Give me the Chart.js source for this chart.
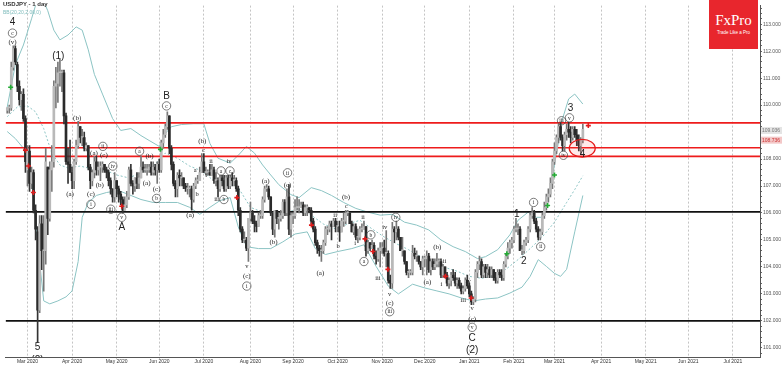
<!DOCTYPE html>
<html>
<head>
<meta charset="utf-8">
<script src="https://cdn.jsdelivr.net/npm/chart.js@4.4.1/dist/chart.umd.min.js"></script>
<style>
  html, body { margin: 0; padding: 0; background: #fff; }
  #wrap { position: relative; width: 782px; height: 366px; }
  #title { position: absolute; left: 3px; top: 1px; font: bold 6px "Liberation Sans", Arial, sans-serif; color: #333; }
  #bb { position: absolute; left: 3px; top: 9px; font: 5px "Liberation Sans", Arial, sans-serif; color: #7fbcbc; }
  #logo { position: absolute; left: 709px; top: 0; width: 49px; height: 49px; background: #e8262d; color: #fff; text-align: center; }
  #logo .big { font: 15px "Liberation Serif", serif; margin-top: 13px; line-height: 15px; }
  #logo .small { font: 4.5px "Liberation Sans", Arial, sans-serif; margin-top: 2px; }
</style>
</head>
<body>
<div id="wrap">
  <canvas id="chart" width="782" height="366"></canvas>
  <div id="title">USDJPY - 1 day</div>
  <div id="bb">BB(20,20,2.00,0)</div>
  <div id="logo"><div class="big">FxPro</div><div class="small">Trade Like a Pro</div></div>
</div>
<script>
// daily candles [open, high, low, close], one array per month
const feb20 = [
  [109.8,109.9,109.7,109.9],[109.9,110.0,109.7,109.9],[109.9,111.6,109.8,111.4],[111.4,112.2,111.3,112.1],
  [112.1,112.2,111.5,111.6],[111.5,111.6,110.5,110.7],[110.7,110.9,110.0,110.2],[110.2,110.5,109.8,110.4],
  [110.4,110.6,109.4,109.5],[109.5,109.6,107.5,107.9]
];
const mar20 = [
  [107.6,108.5,107.0,108.3],[108.3,108.5,106.8,107.1],[107.1,107.7,106.9,107.5],[107.5,107.6,106.0,106.1],
  [106.1,106.3,105.0,105.4],[105.3,105.5,101.2,102.4],[102.4,105.9,102.3,105.6],[105.6,105.9,103.9,104.6],
  [104.6,105.9,103.1,104.6],[104.6,108.4,104.1,107.9],[107.7,107.7,105.2,105.8],[105.8,107.9,105.7,107.6],
  [107.6,108.5,106.8,107.9],[107.9,110.9,107.7,110.7],[110.7,111.4,109.9,110.8],[110.8,111.6,110.1,111.2],
  [111.2,111.7,110.7,111.2],[111.2,111.3,110.5,111.2],[111.2,111.3,109.3,109.6],[109.6,109.7,107.8,107.9],
  [107.9,108.4,107.1,107.8],[107.8,108.7,107.5,107.5]
];
const apr20 = [
  [107.5,107.7,106.9,107.2],[107.2,108.0,106.9,107.9],[107.9,108.7,107.8,108.5],[108.5,109.4,108.4,109.2],
  [109.2,109.2,108.6,108.8],[108.8,109.1,108.5,108.8],[108.8,109.0,108.3,108.4],[108.4,108.6,108.3,108.5],
  [108.5,108.5,107.6,107.7],[107.7,107.8,106.9,107.2],[107.2,107.6,107.0,107.5],[107.5,108.1,107.3,107.9],
  [107.9,108.1,107.4,107.6],[107.6,107.9,107.4,107.7],[107.7,107.9,107.2,107.7],[107.7,107.9,107.5,107.8],
  [107.8,107.8,107.5,107.6],[107.6,107.7,107.3,107.5],[107.5,107.6,107.0,107.2],[107.2,107.3,106.7,106.9],
  [106.9,106.9,106.4,106.6],[106.6,107.5,106.4,107.2]
];
const may20 = [
  [107.2,107.2,106.6,106.9],[106.9,107.0,106.4,106.7],[106.7,106.8,106.3,106.5],[106.5,106.6,106.0,106.1],
  [106.1,106.6,106.1,106.3],[106.3,106.8,106.2,106.6],[106.6,107.7,106.5,107.6],[107.6,107.8,107.0,107.1],
  [107.1,107.2,106.7,107.0],[107.0,107.3,106.8,107.3],[107.3,107.5,106.9,107.1],[107.1,107.5,106.9,107.3],
  [107.3,108.1,107.3,107.7],[107.7,107.9,107.5,107.6],[107.6,107.8,107.5,107.6],[107.6,107.8,107.4,107.6],
  [107.6,107.8,107.5,107.7],[107.7,107.9,107.4,107.5],[107.5,107.9,107.4,107.7],[107.7,107.8,107.4,107.6],
  [107.6,107.9,107.1,107.8]
];
const jun20 = [
  [107.8,108.0,107.5,107.6],[107.6,108.7,107.5,108.6],[108.6,109.1,108.4,108.9],[108.9,109.3,108.8,109.2],
  [109.2,109.75,109.1,109.6],[109.6,109.6,108.2,108.4],[108.4,108.5,107.6,107.8],[107.8,107.9,107.0,107.1],
  [107.1,107.2,106.6,106.9],[106.9,107.5,106.6,107.4],[107.4,107.6,107.0,107.3],[107.3,107.5,107.0,107.3],
  [107.3,107.3,106.9,107.0],[107.0,107.1,106.8,106.9],[106.9,107.1,106.7,106.9],[106.9,107.0,106.6,106.9],
  [106.9,107.0,106.1,106.5],[106.5,107.1,106.4,107.0],[107.0,107.3,106.9,107.2],[107.2,107.4,107.1,107.2],
  [107.2,107.7,107.2,107.5],[107.5,108.2,107.5,107.9]
];
const jul20 = [
  [107.9,108.2,107.5,107.5],[107.5,107.7,107.4,107.5],[107.5,107.6,107.4,107.5],[107.5,107.8,107.4,107.4],
  [107.4,107.8,107.4,107.6],[107.6,107.7,107.1,107.2],[107.2,107.5,107.0,107.2],[107.2,107.3,106.6,106.9],
  [106.9,107.4,106.8,107.3],[107.3,107.4,107.0,107.2],[107.2,107.4,106.8,106.9],[106.9,107.4,106.8,107.3],
  [107.3,107.4,106.9,107.0],[107.0,107.4,106.9,107.3],[107.3,107.5,107.0,107.2],[107.2,107.4,107.0,107.2],
  [107.2,107.3,106.8,106.9],[106.9,107.0,105.9,106.1],[106.1,106.2,105.3,105.4],[105.4,105.5,104.9,105.0],
  [105.0,105.3,104.9,105.0],[105.0,105.1,104.6,104.7],[104.7,105.8,104.2,105.8]
];
const aug20 = [
  [105.8,106.4,105.7,106.0],[106.0,106.1,105.6,105.7],[105.7,105.9,105.3,105.6],[105.6,105.7,105.3,105.5],
  [105.5,106.0,105.5,105.9],[105.9,106.1,105.8,105.9],[105.9,106.6,105.8,106.5],[106.5,107.0,106.4,106.9],
  [106.9,107.05,106.8,106.9],[106.9,107.0,106.5,106.6],[106.6,106.6,105.9,106.0],[106.0,106.0,105.2,105.4],
  [105.4,106.1,105.1,106.1],[106.1,106.1,105.6,105.8],[105.8,106.0,105.4,105.8],[105.8,106.1,105.7,105.9],
  [105.9,106.5,105.8,106.4],[106.4,106.5,105.9,106.0],[106.0,106.9,105.9,106.6],[106.6,107.05,105.2,105.4],
  [105.4,106.0,105.1,105.9]
];
const sep20 = [
  [105.9,106.0,105.6,105.9],[105.9,106.5,105.8,106.2],[106.2,106.6,106.1,106.2],[106.2,106.5,106.0,106.2],
  [106.2,106.4,106.2,106.3],[106.3,106.4,105.9,106.0],[106.0,106.3,105.9,106.2],[106.2,106.3,105.9,106.2],
  [106.2,106.2,106.0,106.1],[106.1,106.2,105.6,105.7],[105.7,105.8,105.3,105.4],[105.4,105.5,104.8,104.9],
  [104.9,105.0,104.5,104.7],[104.7,104.8,104.4,104.6],[104.6,104.8,104.2,104.6],[104.6,105.0,104.5,104.9],
  [104.9,105.5,104.8,105.4],[105.4,105.5,105.2,105.4],[105.4,105.7,105.3,105.6],[105.6,105.7,105.0,105.5],
  [105.5,105.8,105.5,105.7],[105.7,105.8,105.3,105.5]
];
const oct20 = [
  [105.5,105.7,105.3,105.5],[105.5,105.7,104.95,105.3],[105.3,105.8,105.3,105.7],[105.7,106.0,105.5,105.7],
  [105.7,106.1,105.6,106.0],[106.0,106.1,105.9,106.0],[106.0,106.0,105.6,105.6],[105.6,105.7,105.3,105.3],
  [105.3,105.6,105.2,105.5],[105.5,105.6,105.0,105.1],[105.1,105.4,104.9,105.1],[105.1,105.5,105.0,105.4],
  [105.4,105.6,105.3,105.4],[105.4,105.7,105.4,105.5],[105.5,105.5,104.4,104.6],[104.6,105.0,104.5,104.9],
  [104.9,104.9,104.6,104.7],[104.7,105.0,104.7,104.8],[104.8,104.9,104.3,104.4],[104.4,104.6,104.1,104.3],
  [104.3,104.7,104.2,104.6],[104.6,104.9,104.0,104.7]
];
const nov20 = [
  [104.7,104.9,104.5,104.7],[104.7,105.0,104.4,104.5],[104.5,105.35,104.0,104.5],[104.5,104.6,103.4,103.5],
  [103.5,103.7,103.2,103.4],[103.4,105.65,103.2,105.4],[105.4,105.5,104.9,105.3],[105.3,105.7,105.0,105.4],
  [105.4,105.5,105.0,105.1],[105.1,105.1,104.6,104.6],[104.6,105.1,104.4,104.6],[104.6,104.6,104.1,104.2],
  [104.2,104.2,103.7,103.8],[103.8,103.9,103.6,103.8],[103.8,103.9,103.7,103.8],[103.8,104.8,103.7,104.5],
  [104.5,104.7,104.3,104.4],[104.4,104.6,104.2,104.4],[104.4,104.4,104.1,104.2],[104.2,104.2,103.9,104.0],
  [104.0,104.4,103.7,104.3]
];
const dec20 = [
  [104.3,104.4,104.0,104.3],[104.3,104.6,103.7,104.4],[104.4,104.5,103.8,103.9],[103.9,104.3,103.7,104.2],
  [104.2,104.3,103.9,104.0],[104.0,104.3,103.9,104.1],[104.1,104.5,104.0,104.2],[104.2,104.3,104.0,104.2],
  [104.2,104.3,103.6,103.7],[103.7,104.1,103.6,104.0],[104.0,104.0,103.6,103.7],[103.7,103.8,103.3,103.4],
  [103.4,103.6,103.2,103.5],[103.5,103.8,103.3,103.7],[103.7,103.9,103.5,103.6],[103.6,103.8,103.3,103.4],
  [103.4,103.6,103.2,103.5],[103.5,103.6,103.2,103.3],[103.3,103.4,103.0,103.1],[103.1,103.3,103.0,103.2],
  [103.2,103.6,103.1,103.5],[103.5,103.7,103.2,103.3]
];
const jan21 = [
  [103.3,103.4,102.9,103.0],[103.0,103.1,102.6,102.7],[102.7,102.9,102.6,102.8],[102.8,103.9,102.7,103.8],
  [103.8,104.2,103.6,104.1],[104.1,104.4,103.9,104.2],[104.2,104.3,103.6,103.7],[103.7,104.1,103.6,104.0],
  [104.0,104.1,103.6,103.8],[103.8,104.1,103.6,103.9],[103.9,104.0,103.6,103.7],[103.7,104.0,103.6,103.9],
  [103.9,103.9,103.5,103.6],[103.6,103.8,103.4,103.5],[103.5,103.9,103.4,103.8],[103.8,103.9,103.6,103.7],
  [103.7,103.9,103.5,103.6],[103.6,104.2,103.5,104.1],[104.1,104.5,104.0,104.4],[104.4,104.9,104.3,104.7],
  [104.7,105.0,104.5,104.9],[104.9,105.1,104.7,105.0]
];
const feb21 = [
  [105.0,105.5,104.9,105.4],[105.4,105.8,105.3,105.4],[105.4,105.6,105.2,105.4],[105.4,105.5,104.6,104.6],
  [104.6,104.8,104.45,104.6],[104.6,105.0,104.5,104.9],[104.9,105.1,104.8,105.0],[105.0,105.5,104.9,105.4],
  [105.4,106.0,105.3,105.9],[105.9,106.2,105.8,106.0],[106.0,106.1,105.6,105.7],[105.7,105.8,105.3,105.4],
  [105.4,105.5,105.0,105.1],[105.1,105.4,105.0,105.3],[105.3,106.0,105.2,105.9],[105.9,106.4,105.8,106.2],
  [106.2,106.7,106.1,106.6],[106.6,106.9,106.4,106.7],[106.7,107.3,106.6,107.1],[107.1,108.0,106.9,107.9]
];
const mar21 = [
  [107.9,108.6,107.8,108.3],[108.3,108.9,108.2,108.8],[108.8,109.3,108.6,109.2],[109.2,109.35,108.7,108.8],
  [108.8,108.9,108.3,108.5],[108.5,109.0,108.3,108.9],[108.9,109.3,108.7,109.1],[109.1,109.36,108.8,109.0],
  [109.0,109.2,108.6,108.8],[108.8,109.2,108.7,109.1],[109.1,109.2,108.8,108.9],[108.9,109.1,108.5,108.7],
  [108.7,108.9,108.3,108.5],[108.5,108.8,108.2,108.7],[108.7,109.3,108.6,109.1]
];

// month grid: bar index where each month starts
const monthIdx = [10, 32, 54, 75, 97, 120, 141, 163, 185, 206, 228, 250, 270, 293, 315, 336, 358];
const monthLabels = ['Mar 2020','Apr 2020','May 2020','Jun 2020','Jul 2020','Aug 2020','Sep 2020','Oct 2020',
  'Nov 2020','Dec 2020','Jan 2021','Feb 2021','Mar 2021','Apr 2021','May 2021','Jun 2021','Jul 2021'];

// Bollinger bands: [bar index, price]
const bbUpper = [[0,109.93],[4,111.5],[8,112.23],[12,113.2],[16,114.2],[20,113.5],[23,112.78],[26,112.42],[30,112.6],
  [34,112.9],[37,112.78],[40,112.05],[43,111.14],[47,110.41],[52,109.5],[56,109.06],[61,109.13],[66,108.87],[70,108.69],
  [75,108.47],[78,108.95],[81,109.2],[86,109.28],[92,109.31],[97,109.31],[100,108.58],[104,108.03],[110,107.85],
  [114,108.14],[118,108.47],[122,108.22],[126,107.78],[130,107.41],[134,107.05],[140,106.68],[144,106.57],[150,106.94],
  [155,106.83],[160,106.65],[166,106.39],[172,106.17],[178,106.03],[184,105.92],[190,105.95],[196,105.66],[202,105.55],
  [208,105.37],[214,105.0],[220,104.75],[226,104.57],[232,104.31],[236,104.38],[242,104.64],[248,105.19],[252,105.73],
  [257,106.03],[261,105.84],[264,105.84],[268,106.94],[271,108.22],[274,109.5],[277,110.23],[280,110.41],[284,110.04]];
const bbMiddle = [[0,109.57],[5,109.93],[10,109.97],[14,109.75],[18,109.13],[22,108.22],[26,107.78],[30,107.67],
  [36,107.74],[42,107.63],[48,107.6],[54,107.41],[60,107.3],[66,107.49],[72,107.74],[78,108.22],[84,108.03],[90,107.74],
  [96,107.56],[102,107.19],[108,107.12],[114,106.94],[120,106.21],[126,106.03],[132,106.03],[138,106.03],[144,106.14],
  [150,105.92],[156,105.59],[162,105.41],[168,105.59],[174,105.73],[180,105.41],[186,105.11],[192,104.86],[198,104.64],
  [204,104.38],[210,104.13],[216,103.98],[222,103.84],[228,103.65],[234,103.58],[240,103.65],[246,103.91],[252,104.27],
  [258,104.68],[264,105.11],[270,105.66],[276,106.39],[280,106.87],[284,107.38]];
const bbLower = [[0,109.02],[4,108.76],[8,108.4],[12,107.3],[15,104.93],[18,102.74],[21,102.63],[25,102.74],[29,102.89],
  [32,103.11],[35,104.2],[37,105.84],[40,106.39],[44,106.65],[49,106.76],[55,106.83],[60,106.68],[66,106.5],[72,106.39],
  [78,106.39],[84,106.39],[90,106.21],[95,105.95],[100,106.21],[105,106.46],[110,106.57],[114,105.48],[118,104.75],
  [124,104.68],[130,104.68],[136,104.93],[142,105.22],[148,105.3],[152,104.68],[157,104.46],[163,104.57],[170,104.68],
  [176,104.82],[182,104.02],[188,103.29],[193,103.0],[200,103.36],[206,103.22],[212,103.11],[218,103.0],[224,102.85],
  [230,102.74],[236,102.81],[242,102.85],[248,103.03],[254,103.25],[258,103.65],[262,104.27],[266,104.02],[270,103.76],
  [273,103.65],[276,103.91],[280,105.3],[284,106.65]];

// support / resistance levels
const redLevels = [109.34, 108.42, 108.10];
const blackLevels = [106.04, 102.0];

// signal arrows [bar index, price]
const greenMarks = [[1.7,110.66],[75.6,108.36],[246.5,104.49],[266.6,106.28],[270,107.41]];
const redMarks = [[9,108.33],[10.5,107.74],[12.9,106.76],[56.5,106.25],[113.3,106.57],[150.1,105.55],[176.5,105.04],
  [180.4,104.57],[187.8,103.91],[216.2,103.65],[228.9,102.85],[286.7,109.24]];

// wave count labels [bar index, price, text, style]
const waveLabels = [
  [2.6,113.07,'4','big'],[2.6,112.67,'c','circ'],[2.6,112.34,'(v)','par'],[25.2,111.83,'(1)','big'],
  [34.5,109.5,'(b)','par'],[31.0,106.68,'(a)','par'],[47.2,108.47,'ii','circ'],[42.8,108.22,'(a)','par'],
  [47.7,108.14,'(c)','par'],[45.7,107.05,'(b)','par'],[41.3,106.68,'(c)','par'],[41.3,106.32,'i','circ'],
  [52.1,107.74,'iv','circ'],[51.1,106.14,'iii','circ'],[56.5,105.84,'v','circ'],[56.5,105.48,'A','big'],
  [65.3,108.29,'a','circ'],[68.8,107.12,'(a)','par'],[70.2,108.11,'(b)','par'],[73.7,106.87,'(c)','par'],
  [73.7,106.54,'b','circ'],[78.6,110.33,'B','big'],[78.6,109.97,'c','circ'],[14.9,101.02,'5','big'],
  [14.9,100.55,'(2)','big'],[90.3,105.92,'(a)','par'],[92.8,107.6,'a','rom'],[93.7,106.68,'b','rom'],
  [96.2,108.66,'(b)','par'],[96.8,108.33,'c','rom'],[100.6,107.93,'ii','rom'],[98.1,107.41,'i','rom'],
  [105.5,107.56,'a','circ'],[109.4,107.93,'iv','rom'],[109.9,107.56,'c','circ'],[103.5,106.5,'iii','rom'],
  [106.9,106.5,'b','circ'],[118.2,104.02,'v','rom'],[118.2,103.65,'(c)','par'],[118.2,103.29,'i','circ'],
  [127.5,107.19,'(a)','par'],[131.4,104.93,'(b)','par'],[138.3,107.49,'ii','circ'],[138.3,107.05,'(c)','par'],
  [154.5,103.76,'(a)','par'],[161.8,105.92,'ii','rom'],[163.3,104.75,'b','rom'],[167.2,106.57,'(b)','par'],
  [167.2,106.25,'c','rom'],[171.6,104.86,'i','rom'],[175.5,105.84,'ii','rom'],[176.0,104.2,'a','circ'],
  [179.4,105.19,'b','circ'],[182.9,103.58,'iii','rom'],[186.3,105.48,'iv','rom'],[188.7,103.0,'v','rom'],
  [188.7,102.67,'(c)','par'],[188.7,102.34,'iii','circ'],[191.7,105.84,'iv','circ'],[207.3,103.43,'(a)','par'],
  [212.2,104.75,'(b)','par'],[215.7,104.2,'ii','rom'],[214.2,103.36,'i','rom'],[227.4,103.47,'iv','rom'],
  [225.0,102.78,'iii','rom'],[229.4,102.45,'v','rom'],[229.4,102.08,'(c)','par'],[229.4,101.76,'v','circ'],
  [229.4,101.35,'C','big'],[229.4,100.92,'(2)','big'],[251.4,105.95,'1','big'],[254.9,104.2,'2','big'],
  [259.7,106.39,'i','circ'],[263.2,104.75,'ii','circ'],[273.5,109.42,'iii','circ'],[274.4,108.14,'iv','circ'],
  [277.4,109.53,'v','circ'],[277.9,109.9,'3','big'],[283.8,108.18,'4','big']
];

// wave-4 target zone
const zoneIdx = 283.7, zonePrice = 108.40, zoneHalfBars = 6.4, zoneHalfPrice = 0.33;
// price tags on the axis
const priceTags = [[109.06, '109.036', '#e4e4e4', '#777'], [108.70, '108.736', '#f3c8c8', '#c33']];

const xMin = -0.8, xMax = 371.4;
const yMin = 100.66, yMax = 113.69;

const candles = [].concat(feb20, mar20, apr20, may20, jun20, jul20, aug20, sep20, oct20, nov20, dec20, jan21, feb21, mar21);

const wicks = candles.map((c, i) => ({ x: i, y: [c[2], c[1]] }));
const bodies = candles.map((c, i) => ({ x: i, y: [Math.min(c[0], c[3]), Math.max(c[0], c[3])] }));
const bodyColors = candles.map(c => (c[3] >= c[0] ? '#b9b9b9' : '#2a2a2a'));
const wickColors = candles.map(c => (c[3] >= c[0] ? '#777' : '#333'));

const toXY = arr => arr.map(p => ({ x: p[0], y: p[1] }));
const levelLine = (v, color, width) => ({
  type: 'line', data: [{ x: xMin, y: v }, { x: xMax, y: v }],
  borderColor: color, borderWidth: width, pointRadius: 0, order: 5
});

const overlay = {
  id: 'overlay',
  afterDatasetsDraw(chart) {
    const { ctx, chartArea, scales: { x, y } } = chart;
    ctx.save();
    // target ellipse
    const cx = x.getPixelForValue(zoneIdx), cy = y.getPixelForValue(zonePrice);
    const rx = x.getPixelForValue(zoneIdx + zoneHalfBars) - cx;
    const ry = cy - y.getPixelForValue(zonePrice + zoneHalfPrice);
    ctx.beginPath();
    ctx.ellipse(cx, cy, rx, ry, 0, 0, Math.PI * 2);
    ctx.fillStyle = 'rgba(255,80,80,0.12)';
    ctx.fill();
    ctx.strokeStyle = '#e41b1b';
    ctx.lineWidth = 1.3;
    ctx.stroke();

    // wave labels (clipped to the plot like the platform does)
    ctx.beginPath();
    ctx.rect(chartArea.left, chartArea.top, chartArea.right - chartArea.left, chartArea.bottom - chartArea.top);
    ctx.clip();
    ctx.textAlign = 'center';
    ctx.textBaseline = 'middle';
    waveLabels.forEach(([i, p, t, kind]) => {
      const px = x.getPixelForValue(i), py = y.getPixelForValue(p);
      ctx.fillStyle = '#222';
      if (kind === 'big') {
        ctx.font = '10px "Liberation Sans", Arial, sans-serif';
        ctx.fillText(t, px, py);
      } else if (kind === 'par') {
        ctx.font = '7px "Liberation Serif", serif';
        ctx.fillText(t, px, py);
      } else if (kind === 'rom') {
        ctx.font = '6.5px "Liberation Serif", serif';
        ctx.fillText(t, px, py);
      } else {
        ctx.beginPath();
        ctx.arc(px, py, 4.2, 0, Math.PI * 2);
        ctx.strokeStyle = '#444';
        ctx.lineWidth = 0.7;
        ctx.stroke();
        ctx.font = '5.5px "Liberation Serif", serif';
        ctx.fillText(t, px, py + 0.3);
      }
    });
    ctx.restore();
  },
  afterDraw(chart) {
    const { ctx, chartArea, scales: { y } } = chart;
    ctx.save();
    ctx.font = '5px "Liberation Sans", Arial, sans-serif';
    ctx.textBaseline = 'middle';
    ctx.textAlign = 'left';
    priceTags.forEach(([v, t, bg, fg]) => {
      const py = y.getPixelForValue(v);
      ctx.fillStyle = bg;
      ctx.fillRect(chartArea.right + 1, py - 3.5, 21, 7);
      ctx.fillStyle = fg;
      ctx.fillText(t, chartArea.right + 2, py);
    });
    ctx.restore();
  }
};

Chart.defaults.font.family = '"Liberation Sans", Arial, sans-serif';

new Chart(document.getElementById('chart'), {
  type: 'bar',
  data: {
    datasets: [
      levelLine(redLevels[0], '#ee1c1c', 1.6),
      levelLine(redLevels[1], '#ee1c1c', 1.6),
      levelLine(redLevels[2], '#ee1c1c', 1.6),
      levelLine(blackLevels[0], '#111', 1.8),
      levelLine(blackLevels[1], '#111', 1.8),
      { type: 'line', data: toXY(bbUpper), borderColor: '#8cc4c4', borderWidth: 1, pointRadius: 0, order: 6 },
      { type: 'line', data: toXY(bbMiddle), borderColor: '#8cc4c4', borderWidth: 1, borderDash: [2, 2], pointRadius: 0, order: 6 },
      { type: 'line', data: toXY(bbLower), borderColor: '#8cc4c4', borderWidth: 1, pointRadius: 0, order: 6 },
      { type: 'bar', data: wicks, backgroundColor: wickColors, barThickness: 1, grouped: false, order: 3 },
      { type: 'bar', data: bodies, backgroundColor: bodyColors, borderWidth: 0,
        barThickness: 2, minBarLength: 1, grouped: false, order: 2 },
      { type: 'scatter', data: toXY(greenMarks), pointStyle: 'cross', radius: 2.5, borderWidth: 1.6,
        borderColor: '#22aa33', order: 1 },
      { type: 'scatter', data: toXY(redMarks), pointStyle: 'cross', radius: 2.5, borderWidth: 1.6,
        borderColor: '#e01b1b', order: 1 }
    ]
  },
  options: {
    responsive: false,
    animation: false,
    layout: { padding: 0 },
    plugins: { legend: { display: false }, tooltip: { enabled: false } },
    scales: {
      x: {
        type: 'linear', min: xMin, max: xMax, offset: false,
        afterBuildTicks: s => { s.ticks = monthIdx.map(v => ({ value: v })); },
        afterFit: s => { s.height = 9; s.paddingLeft = 0; s.paddingRight = 0; },
        ticks: {
          autoSkip: false, maxRotation: 0, padding: 0, color: '#333', font: { size: 5 },
          callback: v => monthLabels[monthIdx.indexOf(v)]
        },
        grid: { offset: false, color: '#b5b5b5', lineWidth: 0.8, tickLength: 2 },
        border: { display: true, color: '#555', dash: [2, 2] }
      },
      y: {
        type: 'linear', position: 'right', min: yMin, max: yMax,
        afterBuildTicks: s => {
          const t = [];
          for (let v = 100.8; v < yMax; v += 0.2) t.push({ value: Math.round(v * 10) / 10 });
          s.ticks = t;
        },
        afterFit: s => { s.width = 22; s.paddingTop = 0; s.paddingBottom = 0; },
        ticks: {
          autoSkip: false, padding: 1, color: '#555', font: { size: 5 },
          callback: v => (Math.abs(v - Math.round(v)) < 1e-6 ? v.toFixed(3) : '')
        },
        grid: { drawOnChartArea: false, tickLength: 2, color: '#666' },
        border: { display: true, color: '#555' }
      }
    }
  },
  plugins: [overlay]
});
</script>
</body>
</html>
